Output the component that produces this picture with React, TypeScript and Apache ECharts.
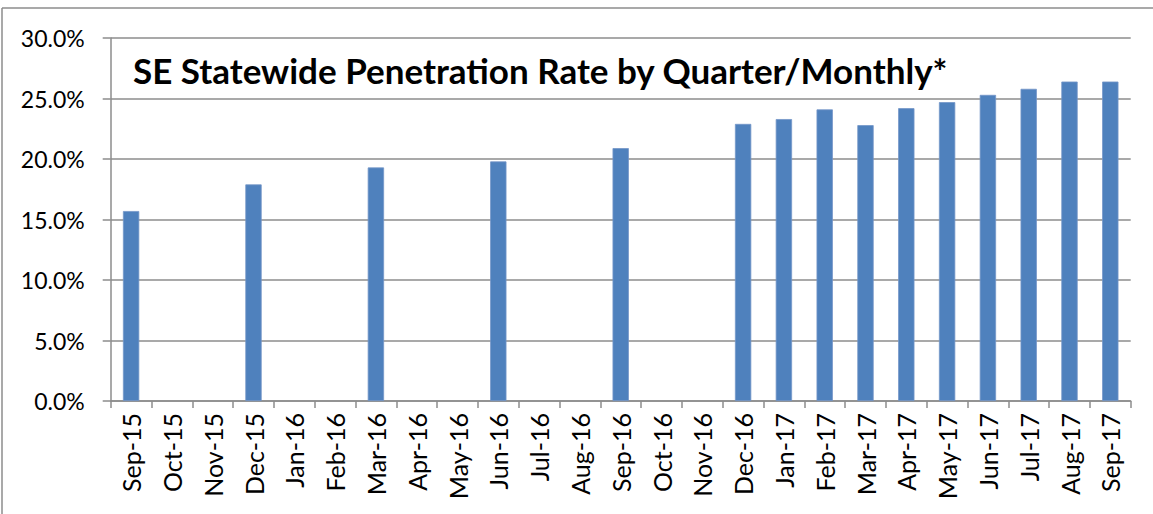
import React, { useEffect, useRef } from "react";
import * as echarts from "echarts";

const categories = [
  "Sep-15", "Oct-15", "Nov-15", "Dec-15", "Jan-16", "Feb-16", "Mar-16", "Apr-16", "May-16",
  "Jun-16", "Jul-16", "Aug-16", "Sep-16", "Oct-16", "Nov-16", "Dec-16", "Jan-17", "Feb-17",
  "Mar-17", "Apr-17", "May-17", "Jun-17", "Jul-17", "Aug-17", "Sep-17",
];
const rates: (number | null)[] = [
  0.157, null, null, 0.179, null, null, 0.193, null, null,
  0.198, null, null, 0.209, null, null, 0.229, 0.233, 0.241,
  0.228, 0.242, 0.247, 0.253, 0.258, 0.264, 0.264,
];
const titleText = "SE Statewide Penetration Rate by Quarter/Monthly*";
const FONT = "Lato, 'Open Sans', sans-serif";

export default function App() {
  const ref = useRef<HTMLDivElement>(null);
  useEffect(() => {
    const chart = echarts.init(ref.current!, null, { renderer: "svg" });
    chart.setOption({
      animation: false,
      grid: { left: 110.7, right: 22.3, top: 38, bottom: 113, containLabel: false },
      title: {
        text: titleText,
        left: 128,
        top: 47,
        textStyle: { fontFamily: FONT, fontSize: 35, fontWeight: "bold", color: "#000" },
      },
      graphic: [
        { type: "line", shape: { x1: 2, y1: 8, x2: 1153, y2: 8 }, style: { stroke: "#8c8c8c", lineWidth: 1.5 } },
        { type: "line", shape: { x1: 2, y1: 8, x2: 2, y2: 514 }, style: { stroke: "#8c8c8c", lineWidth: 1.5 } },
      ],
      xAxis: {
        type: "category",
        data: categories,
        boundaryGap: true,
        axisLine: { show: true, lineStyle: { color: "#8c8c8c", width: 1.5 } },
        axisTick: { show: true, length: 7, alignWithLabel: false, lineStyle: { color: "#8c8c8c", width: 1.5 } },
        axisLabel: {
          rotate: 90,
          interval: 0,
          margin: 12,
          fontFamily: FONT,
          fontSize: 25,
          color: "#000",
        },
        splitLine: { show: false },
      },
      yAxis: {
        type: "value",
        min: 0,
        max: 0.3,
        interval: 0.05,
        axisLine: { show: true, lineStyle: { color: "#8c8c8c", width: 1.5 } },
        axisTick: { show: true, length: 8, lineStyle: { color: "#8c8c8c", width: 1.5 } },
        axisLabel: {
          margin: 26,
          fontFamily: FONT,
          fontSize: 23,
          color: "#000",
          formatter: (v: number) => (v * 100).toFixed(1) + "%",
        },
        splitLine: { show: true, lineStyle: { color: "#8c8c8c", width: 1.5 } },
      },
      series: [
        {
          type: "bar",
          data: rates,
          barWidth: "40%",
          itemStyle: { color: "#4F81BD", borderColor: "#7396c8", borderWidth: 0.8 },
        },
      ],
    });
    return () => chart.dispose();
  }, []);
  return (
    <div
      ref={ref}
      style={{ position: "absolute", left: 0, top: 0, width: 1153, height: 514, background: "#fff" }}
    />
  );
}
